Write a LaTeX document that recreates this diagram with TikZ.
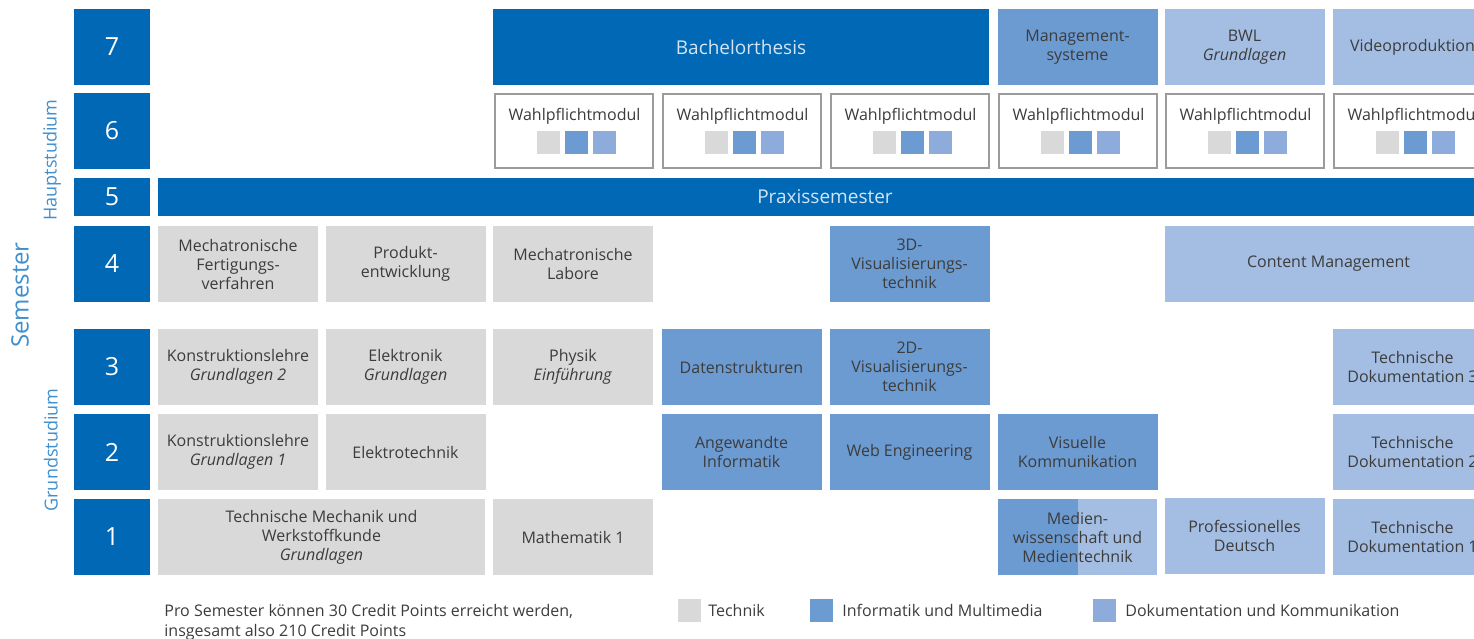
\documentclass[tikz,border=0pt]{standalone}
\usepackage{fontspec}
\setmainfont{Open Sans}
\definecolor{darkblue}{RGB}{0,104,180}
\definecolor{infoblue}{RGB}{108,155,210}
\definecolor{dokublue}{RGB}{164,190,227}
\definecolor{dokusq}{RGB}{141,171,219}
\definecolor{techgray}{RGB}{217,217,217}
\definecolor{txt}{RGB}{60,60,60}
\definecolor{lblblue}{RGB}{63,143,207}
\definecolor{bordergray}{RGB}{155,155,155}
\definecolor{paletext}{RGB}{210,228,245}
\tikzset{
  cell/.style={minimum width=80pt, minimum height=38pt, inner sep=0pt, align=center,
               font=\fontsize{8}{9.5}\selectfont, text=txt},
  tech/.style={cell, fill=techgray},
  info/.style={cell, fill=infoblue},
  doku/.style={cell, fill=dokublue},
  dark/.style={cell, fill=darkblue, text=paletext, font=\fontsize{9.5}{11}\selectfont},
  num/.style={minimum width=38pt, minimum height=38pt, inner sep=0pt, fill=darkblue,
              text=white, font=\fontsize{12.5}{14}\selectfont},
  wpbox/.style={minimum width=79pt, minimum height=37pt, inner sep=0pt, draw=bordergray,
                line width=1pt, fill=white},
  wptext/.style={inner sep=0pt, font=\fontsize{8}{9.5}\selectfont, text=txt},
  sq/.style={minimum size=11.5pt, inner sep=0pt},
  sidelabel/.style={rotate=90, inner sep=0pt, text=lblblue},
  legtext/.style={anchor=west, inner sep=0pt, font=\fontsize{8}{9.5}\selectfont, text=txt},
}
\begin{document}
\begin{tikzpicture}[x=0.5pt, y=-0.5pt]
\useasboundingbox (0,0) rectangle (1474,638);
\clip (0,0) rectangle (1474,638);
% side labels
\node[sidelabel, font=\fontsize{12}{14}\selectfont] (semester) at (20,295) {Semester};
\node[sidelabel, font=\fontsize{9}{11}\selectfont] (haupt) at (52,160) {Hauptstudium};
\node[sidelabel, font=\fontsize{9}{11}\selectfont] (grund) at (51,450) {Grundstudium};
% semester numbers
\node[num] (n7) at (112,47) {7};
\node[num] (n6) at (112,131) {6};
\node[num, minimum height=19pt] (n5) at (112,197) {5};
\node[num] (n4) at (112,264) {4};
\node[num] (n3) at (112,367) {3};
\node[num] (n2) at (112,452) {2};
\node[num] (n1) at (112,537) {1};
% row 7
\node[dark, minimum width=248pt] (bach) at (741,47) {Bachelorthesis};
\node[info] (mgmt) at (1077.5,47) {Management-\\systeme};
\node[doku] (bwl) at (1244.5,47) {BWL\\\textit{Grundlagen}};
\node[doku] (video) at (1412.5,47) {Videoproduktion};
% row 6: Wahlpflichtmodule
\foreach \i/\x in {3/573.5, 4/741.5, 5/909.5, 6/1077.5, 7/1244.5, 8/1412.5}{
  \node[wpbox] (wp\i) at (\x,131) {};
  \node[wptext] (wpt\i) at (\x+1,116.5) {Wahlpflichtmodul};
  \node[sq, fill=techgray] (wpa\i) at (\x-25.5,142.5) {};
  \node[sq, fill=infoblue] (wpb\i) at (\x+2.5,142.5) {};
  \node[sq, fill=dokusq] (wpc\i) at (\x+30.5,142.5) {};
}
% row 5
\node[dark, minimum width=667pt, minimum height=19pt] (praxis) at (825,197) {Praxissemester};
% row 4
\node[tech] (mfv) at (238,264) {Mechatronische\\Fertigungs-\\verfahren};
\node[tech] (pe) at (405.5,264) {Produkt-\\entwicklung};
\node[tech] (ml) at (573,264) {Mechatronische\\Labore};
\node[info] (vis3d) at (909.5,264) {3D-\\Visualisierungs-\\technik};
\node[doku, minimum width=163.5pt] (cm) at (1328.5,264) {Content Management};
% row 3
\node[tech] (kl2) at (238,367) {Konstruktionslehre\\\textit{Grundlagen 2}};
\node[tech] (elek) at (405.5,367) {Elektronik\\\textit{Grundlagen}};
\node[tech] (phys) at (573,367) {Physik\\\textit{Einführung}};
\node[info] (ds) at (741.5,367) {Datenstrukturen};
\node[info] (vis2d) at (909.5,367) {2D-\\Visualisierungs-\\technik};
\node[doku] (td3) at (1412.5,367) {Technische\\Dokumentation 3};
% row 2
\node[tech] (kl1) at (238,452) {Konstruktionslehre\\\textit{Grundlagen 1}};
\node[tech] (et) at (405.5,452) {Elektrotechnik};
\node[info] (ai) at (741.5,452) {Angewandte\\Informatik};
\node[info] (web) at (909.5,452) {Web Engineering};
\node[info] (vk) at (1077.5,452) {Visuelle\\Kommunikation};
\node[doku] (td2) at (1412.5,452) {Technische\\Dokumentation 2};
% row 1
\node[tech, minimum width=163.5pt] (tm) at (321.5,537) {Technische Mechanik und\\Werkstoffkunde\\\textit{Grundlagen}};
\node[tech] (mathe) at (573,537) {Mathematik 1};
\fill[infoblue] (998,499) rectangle (1077.5,575);
\fill[dokublue] (1077.5,499) rectangle (1157,575);
\node[cell] (medien) at (1077.5,537) {Medien-\\wissenschaft und\\Medientechnik};
\node[doku] (deutsch) at (1244.5,536) {Professionelles\\Deutsch};
\node[doku] (td1) at (1412.5,537) {Technische\\Dokumentation 1};
% footnote
\node[anchor=north west, inner sep=0pt, align=left, font=\fontsize{8}{10}\selectfont, text=txt] (note) at (164,603.5)
  {Pro Semester können 30 Credit Points erreicht werden,\\insgesamt also 210 Credit Points};
% legend
\node[sq, fill=techgray] (legtech) at (689.5,610.5) {};
\node[legtext] (legtecht) at (708,610.5) {Technik};
\node[sq, fill=infoblue] (leginfo) at (821.5,610.5) {};
\node[legtext] (leginfot) at (842,610.5) {Informatik und Multimedia};
\node[sq, fill=dokusq] (legdoku) at (1104.5,610.5) {};
\node[legtext] (legdokut) at (1125,610.5) {Dokumentation und Kommunikation};
\end{tikzpicture}
\end{document}
